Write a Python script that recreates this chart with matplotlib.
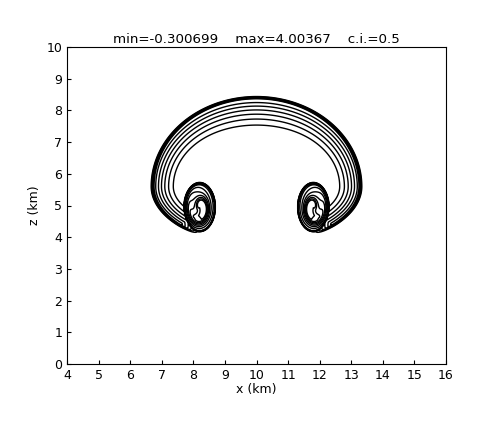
import numpy as np
import matplotlib
matplotlib.use("Agg")
import matplotlib.pyplot as plt

# ---- data ----
title_text = "min=-0.300699    max=4.00367    c.i.=0.5"
levels = [0.5, 1.0, 1.5, 2.0, 2.5, 3.0, 3.5]
x_ticks = [4, 5, 6, 7, 8, 9, 10, 11, 12, 13, 14, 15, 16]
z_ticks = [0, 1, 2, 3, 4, 5, 6, 7, 8, 9, 10]
cap_center = [10.0, 5.6]          # km
cap_radii = [3.35, 2.85, 1.85]    # horizontal, upper vertical, lower vertical
cap_inner = [0.55, 0.15]          # inner edge (top, extra at sides)
cap_end_angle = [2.3, 2.55]       # rad from vertical: taper start / end
vortex_centers_x = [8.2, 11.8]
vortex_center_z = 4.95
vortex_radii = [0.5, 0.78]
field_max = 4.0

# ---- field ----
x = np.linspace(4, 16, 721)
z = np.linspace(0, 10, 601)
X, Z = np.meshgrid(x, z)

dx = (X - cap_center[0]) / cap_radii[0]
dzr = Z - cap_center[1]
dz = np.where(dzr > 0, dzr / cap_radii[1], dzr / cap_radii[2])
rho = np.hypot(dx, dz)
theta = np.arctan2(np.abs(dx), dz)
rho_i = cap_inner[0] + cap_inner[1] * np.sin(theta) ** 2
s = np.clip((rho - rho_i) / (1 - rho_i), 0, 1)
edge = np.clip((1.0 - rho) / 0.035, 0, 1)
taper = np.clip((cap_end_angle[1] - theta) / (cap_end_angle[1] - cap_end_angle[0]), 0, 1)
cap = field_max * s ** 1.67 * edge * taper

F = cap.copy()
for vx in vortex_centers_x:
    sgn = 1 if vx < 10 else -1
    ex = sgn * (X - vx) / vortex_radii[0]
    ez = (Z - vortex_center_z) / vortex_radii[1]
    q = np.hypot(ex, ez)
    phi = np.arctan2(ez, ex)
    inner = 0.12 + 0.3 * np.sin(phi + 6.0 * q)
    sv = np.clip((q - inner) / (0.97 - inner), 0, 1)
    ev = np.clip((1.0 - q) / 0.05, 0, 1)
    F = np.maximum(F, field_max * sv ** 1.2 * ev)

# ---- plot ----
fig = plt.figure(figsize=(4.87, 4.25), dpi=100)
ax = fig.add_axes([67 / 487, 1 - 364 / 425, (446 - 67) / 487, (364 - 47) / 425])
ax.contour(X, Z, F, levels=levels, colors="black", linewidths=1.0)
ax.set_xlim(4, 16)
ax.set_ylim(0, 10)
ax.set_xticks(x_ticks)
ax.set_yticks(z_ticks)
ax.tick_params(direction="in", length=3, labelsize=9, top=False, right=False)
ax.set_xlabel("x (km)", fontsize=9, labelpad=1)
ax.set_ylabel("z (km)", fontsize=9, labelpad=4)
ax.set_title(title_text, fontsize=9.6, pad=3)
fig.savefig("out.png", dpi=100)
